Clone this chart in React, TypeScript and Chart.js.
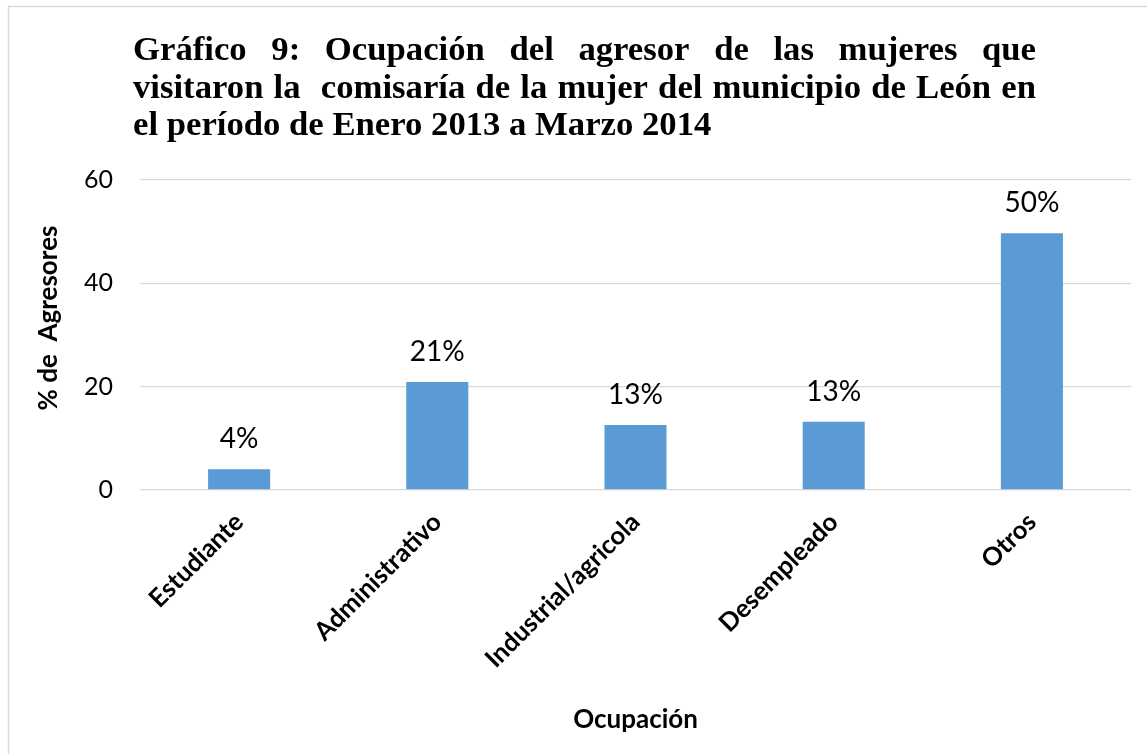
import React, { useEffect, useRef } from "react";
import { Chart, registerables } from "chart.js";

Chart.register(...registerables);

const categories = ["Estudiante", "Administrativo", "Industrial/agricola", "Desempleado", "Otros"];
const values = [4.0, 20.9, 12.6, 13.2, 49.7];
const valueLabels = ["4%", "21%", "13%", "13%", "50%"];
const titleLines = [
  "Gráfico 9: Ocupación del agresor de las mujeres que",
  "visitaron la  comisaría de la mujer del municipio de León en",
  "el período de Enero 2013 a Marzo 2014",
];
const yMin = 0;
const yMax = 60;
const yStep = 20;
const yAxisTitle = "% de  Agresores";
const xAxisTitle = "Ocupación";

const BAR_COLOR = "#5b9bd5";
const GRID_COLOR = "#d9d9d9";
const SANS = "Lato, 'Noto Sans', sans-serif";

const frameAndTitlePlugin = {
  id: "frameAndTitle",
  beforeDraw(chart: any) {
    const ctx = chart.ctx;
    ctx.save();
    ctx.fillStyle = "#ffffff";
    ctx.fillRect(0, 0, chart.width, chart.height);
    ctx.strokeStyle = GRID_COLOR;
    ctx.lineWidth = 1.5;
    ctx.beginPath();
    ctx.moveTo(8.5, chart.height + 2);
    ctx.lineTo(8.5, 6.5);
    ctx.lineTo(chart.width + 2, 6.5);
    ctx.stroke();
    ctx.restore();
  },
  afterDraw(chart: any) {
    const ctx = chart.ctx;
    ctx.save();
    ctx.font = "bold 34.7px 'Liberation Serif', 'Times New Roman', serif";
    ctx.fillStyle = "#000000";
    ctx.textBaseline = "alphabetic";
    ctx.textAlign = "left";
    const left = 133;
    const right = 1036;
    titleLines.forEach((line, i) => {
      const y = 60 + i * 37.5;
      if (i === titleLines.length - 1) {
        ctx.fillText(line, left, y);
        return;
      }
      const words = line.split(" ");
      const wordsW = words.reduce((s, w) => s + ctx.measureText(w).width, 0);
      const gap = (right - left - wordsW) / (words.length - 1);
      let x = left;
      words.forEach((w) => {
        ctx.fillText(w, x, y);
        x += ctx.measureText(w).width + gap;
      });
    });

    // y-axis title
    ctx.font = `bold 26px ${SANS}`;
    ctx.textAlign = "center";
    ctx.textBaseline = "middle";
    ctx.translate(49, 318);
    ctx.rotate(-Math.PI / 2);
    ctx.fillText(yAxisTitle, 0, 0);
    ctx.restore();
  },
};

const valueLabelPlugin = {
  id: "valueLabels",
  afterDatasetsDraw(chart: any) {
    const ctx = chart.ctx;
    const meta = chart.getDatasetMeta(0);
    ctx.save();
    ctx.font = `28px ${SANS}`;
    ctx.fillStyle = "#000000";
    ctx.textAlign = "center";
    ctx.textBaseline = "alphabetic";
    meta.data.forEach((bar: any, i: number) => {
      ctx.fillText(valueLabels[i], bar.x, bar.y - 21);
    });
    ctx.restore();
  },
};

export default function App() {
  const canvasRef = useRef<HTMLCanvasElement | null>(null);

  useEffect(() => {
    if (!canvasRef.current) return;
    const chart = new Chart(canvasRef.current, {
      type: "bar",
      data: {
        labels: categories,
        datasets: [
          {
            data: values,
            backgroundColor: BAR_COLOR,
            borderWidth: 0,
            barPercentage: 0.313,
            categoryPercentage: 1,
          },
        ],
      },
      options: {
        responsive: false,
        animation: false,
        layout: { padding: { top: 180, right: 16, left: 0, bottom: 0 } },
        plugins: {
          legend: { display: false },
          title: { display: false },
          tooltip: { enabled: false },
        },
        scales: {
          x: {
            grid: { display: false, drawTicks: false },
            border: { display: false },
            ticks: {
              color: "#000000",
              font: { family: SANS, weight: "bold", size: 25.5 },
              minRotation: 45,
              maxRotation: 45,
              autoSkip: false,
              padding: 17,
            },
            title: {
              display: true,
              text: xAxisTitle,
              color: "#000000",
              font: { family: SANS, weight: "bold", size: 26 },
              padding: { top: 0, bottom: 19 },
            },
            afterFit: (s: any) => {
              s.height = 264;
            },
          },
          y: {
            min: yMin,
            max: yMax,
            ticks: {
              stepSize: yStep,
              color: "#000000",
              font: { family: SANS, size: 25 },
              padding: 27,
            },
            grid: { color: GRID_COLOR, lineWidth: 1.3, drawTicks: false },
            border: { display: false },
            title: { display: false },
            afterFit: (s: any) => {
              s.width = 140;
            },
          },
        },
      },
      plugins: [frameAndTitlePlugin, valueLabelPlugin],
    } as any);
    return () => chart.destroy();
  }, []);

  return (
    <div style={{ position: "absolute", left: 0, top: 0, width: 1147, height: 754 }}>
      <canvas ref={canvasRef} width={1147} height={754} style={{ display: "block" }} />
    </div>
  );
}
